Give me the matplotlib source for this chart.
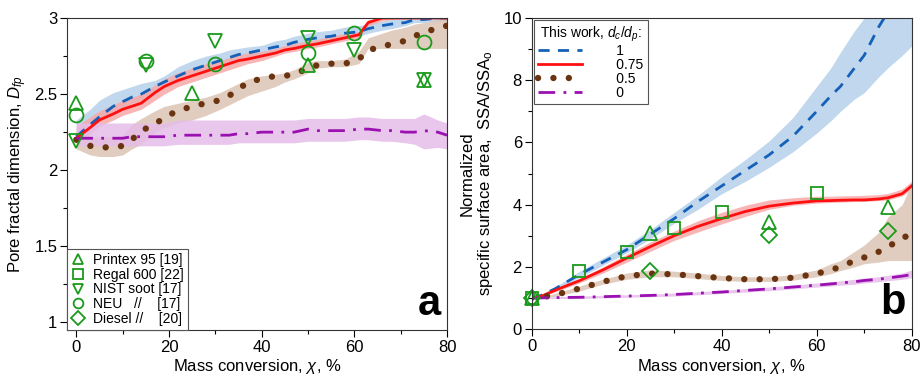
import numpy as np
import matplotlib
matplotlib.use("Agg")
import matplotlib.pyplot as plt
from matplotlib.lines import Line2D
from matplotlib.ticker import MultipleLocator, FormatStrFormatter

plt.rcParams['font.family'] = ['Liberation Sans', 'DejaVu Sans']
plt.rcParams['mathtext.fontset'] = 'custom'
plt.rcParams['mathtext.it'] = 'Liberation Sans:italic'
plt.rcParams['mathtext.rm'] = 'Liberation Sans'

# ---- panel a: pore fractal dimension ----
xa = [0, 3, 5, 8, 10, 12, 14, 17, 19, 22, 25, 28, 31, 33, 35, 37, 40, 43, 45, 47, 50, 52, 55, 58, 61, 63, 66, 68, 71, 73, 75, 78, 80]
a_d1 = [2.22, 2.30, 2.35, 2.42, 2.45, 2.48, 2.50, 2.55, 2.58, 2.62, 2.66, 2.69, 2.72, 2.74, 2.76, 2.77, 2.79, 2.81, 2.82, 2.84, 2.86, 2.87, 2.88, 2.90, 2.91, 2.93, 2.95, 2.96, 2.97, 2.99, 2.99, 3.0, 3.0]
a_d1_lo = [2.22, 2.27, 2.32, 2.38, 2.41, 2.44, 2.46, 2.51, 2.54, 2.58, 2.62, 2.65, 2.68, 2.70, 2.72, 2.73, 2.75, 2.77, 2.78, 2.80, 2.82, 2.83, 2.84, 2.86, 2.88, 2.90, 2.92, 2.93, 2.95, 2.97, 2.97, 2.98, 2.98]
a_d1_hi = [2.33, 2.40, 2.46, 2.51, 2.53, 2.55, 2.57, 2.59, 2.62, 2.68, 2.72, 2.75, 2.77, 2.79, 2.80, 2.81, 2.82, 2.85, 2.86, 2.88, 2.90, 2.91, 2.92, 2.94, 2.95, 2.96, 2.98, 2.99, 3.0, 3.0, 3.0, 3.0, 3.0]
a_d075 = [2.21, 2.28, 2.33, 2.37, 2.40, 2.42, 2.44, 2.51, 2.55, 2.59, 2.62, 2.65, 2.68, 2.70, 2.72, 2.73, 2.75, 2.77, 2.79, 2.80, 2.82, 2.83, 2.85, 2.87, 2.89, 2.97, 3.0, 3.0, 3.0, 3.0, 3.0, 3.0, 3.0]
a_d075_lo = [2.16, 2.24, 2.29, 2.33, 2.36, 2.38, 2.40, 2.46, 2.50, 2.55, 2.58, 2.61, 2.64, 2.66, 2.68, 2.70, 2.72, 2.75, 2.77, 2.78, 2.80, 2.81, 2.83, 2.85, 2.87, 2.95, 2.98, 2.99, 3.0, 3.0, 3.0, 3.0, 3.0]
a_d075_hi = [2.29, 2.35, 2.39, 2.43, 2.46, 2.48, 2.50, 2.56, 2.60, 2.64, 2.67, 2.70, 2.72, 2.74, 2.76, 2.77, 2.78, 2.80, 2.82, 2.83, 2.85, 2.86, 2.88, 2.90, 2.91, 2.99, 3.0, 3.0, 3.0, 3.0, 3.0, 3.0, 3.0]
a_d05 = [2.20, 2.16, 2.15, 2.15, 2.16, 2.20, 2.26, 2.30, 2.35, 2.39, 2.42, 2.44, 2.46, 2.49, 2.53, 2.58, 2.60, 2.62, 2.62, 2.63, 2.67, 2.69, 2.70, 2.70, 2.73, 2.79, 2.81, 2.83, 2.85, 2.88, 2.91, 2.93, 2.95]
a_d05_lo = [2.14, 2.10, 2.09, 2.09, 2.10, 2.14, 2.17, 2.25, 2.28, 2.31, 2.33, 2.36, 2.40, 2.43, 2.46, 2.49, 2.52, 2.55, 2.58, 2.60, 2.64, 2.67, 2.68, 2.68, 2.70, 2.80, 2.80, 2.80, 2.80, 2.80, 2.80, 2.80, 2.80]
a_d05_hi = [2.26, 2.22, 2.22, 2.22, 2.23, 2.30, 2.34, 2.39, 2.42, 2.44, 2.46, 2.48, 2.51, 2.54, 2.57, 2.60, 2.62, 2.63, 2.64, 2.66, 2.71, 2.72, 2.72, 2.73, 2.78, 2.87, 2.90, 2.92, 2.94, 2.96, 2.97, 2.99, 3.0]
a_d0 = [2.21, 2.21, 2.21, 2.21, 2.21, 2.22, 2.22, 2.22, 2.22, 2.23, 2.23, 2.23, 2.23, 2.23, 2.24, 2.24, 2.25, 2.25, 2.25, 2.25, 2.27, 2.26, 2.26, 2.26, 2.27, 2.27, 2.26, 2.26, 2.25, 2.25, 2.26, 2.25, 2.23]
a_d0_lo = [2.16, 2.16, 2.16, 2.16, 2.16, 2.16, 2.16, 2.16, 2.16, 2.17, 2.17, 2.17, 2.17, 2.17, 2.18, 2.18, 2.18, 2.18, 2.18, 2.18, 2.19, 2.19, 2.19, 2.19, 2.20, 2.20, 2.19, 2.19, 2.18, 2.17, 2.14, 2.15, 2.14]
a_d0_hi = [2.31, 2.31, 2.31, 2.31, 2.31, 2.31, 2.31, 2.31, 2.31, 2.33, 2.33, 2.33, 2.33, 2.33, 2.33, 2.33, 2.33, 2.33, 2.33, 2.33, 2.34, 2.34, 2.34, 2.34, 2.35, 2.35, 2.34, 2.34, 2.34, 2.34, 2.37, 2.33, 2.31]

# experimental points, panel a
a_tri_x = [0, 25, 50, 75]
a_tri_y = [2.44, 2.51, 2.69, 2.59]
a_tdn_x = [0, 15, 30, 50, 60, 75]
a_tdn_y = [2.19, 2.69, 2.85, 2.87, 2.79, 2.59]
a_cir_x = [0, 15, 30, 50, 60, 75]
a_cir_y = [2.36, 2.72, 2.70, 2.77, 2.90, 2.84]

# ---- panel b: normalized specific surface area ----
xb = [0, 2, 5, 10, 15, 20, 25, 30, 35, 40, 45, 50, 55, 60, 63, 65, 68, 70, 73, 75, 78, 80]
b_d1 = [1.0, 1.08, 1.3, 1.75, 2.15, 2.55, 3.05, 3.55, 4.1, 4.6, 5.1, 5.6, 6.2, 7.0, 7.5, 7.8, 8.4, 8.8, 9.7, 10.2, 10.9, 11.3]
b_d1_lo = [1.0, 1.06, 1.25, 1.65, 2.05, 2.45, 2.9, 3.4, 3.85, 4.35, 4.75, 5.2, 5.7, 6.3, 6.7, 7.0, 7.4, 7.6, 8.1, 8.4, 8.8, 9.1]
b_d1_hi = [1.0, 1.1, 1.35, 1.85, 2.28, 2.7, 3.2, 3.75, 4.3, 4.9, 5.45, 6.05, 6.8, 7.8, 8.4, 8.9, 9.6, 10.0, 11.0, 11.5, 12.0, 12.5]
b_d075 = [1.0, 1.05, 1.25, 1.55, 1.9, 2.28, 2.65, 3.0, 3.3, 3.55, 3.78, 3.95, 4.05, 4.12, 4.13, 4.14, 4.15, 4.15, 4.18, 4.22, 4.35, 4.6]
b_d075_lo = [1.0, 1.03, 1.2, 1.48, 1.8, 2.15, 2.5, 2.85, 3.12, 3.38, 3.62, 3.85, 3.98, 4.05, 4.07, 4.08, 4.1, 4.1, 4.13, 4.15, 4.28, 4.5]
b_d075_hi = [1.0, 1.07, 1.3, 1.62, 2.0, 2.4, 2.8, 3.15, 3.48, 3.75, 3.98, 4.15, 4.22, 4.27, 4.27, 4.28, 4.29, 4.3, 4.32, 4.36, 4.5, 4.75]
b_d05 = [1.0, 1.02, 1.1, 1.3, 1.52, 1.7, 1.78, 1.76, 1.7, 1.64, 1.6, 1.6, 1.65, 1.78, 1.9, 2.0, 2.2, 2.3, 2.48, 2.65, 2.9, 3.1]
b_d05_lo = [1.0, 1.0, 1.05, 1.22, 1.44, 1.6, 1.68, 1.68, 1.62, 1.56, 1.53, 1.53, 1.57, 1.68, 1.78, 1.88, 2.0, 2.1, 2.15, 2.2, 2.2, 2.2]
b_d05_hi = [1.0, 1.04, 1.15, 1.38, 1.6, 1.8, 1.9, 1.86, 1.8, 1.72, 1.68, 1.68, 1.75, 1.9, 2.1, 2.2, 2.5, 2.7, 3.1, 3.6, 4.0, 4.7]
b_d0 = [1.0, 1.0, 1.01, 1.02, 1.04, 1.06, 1.08, 1.11, 1.15, 1.19, 1.24, 1.29, 1.35, 1.41, 1.45, 1.48, 1.52, 1.56, 1.6, 1.64, 1.7, 1.75]
b_d0_lo = [1.0, 0.98, 0.98, 0.98, 1.0, 1.02, 1.04, 1.06, 1.1, 1.14, 1.19, 1.23, 1.29, 1.35, 1.38, 1.41, 1.44, 1.48, 1.52, 1.55, 1.6, 1.65]
b_d0_hi = [1.0, 1.02, 1.04, 1.06, 1.08, 1.1, 1.12, 1.16, 1.2, 1.24, 1.3, 1.35, 1.41, 1.48, 1.52, 1.55, 1.6, 1.64, 1.68, 1.73, 1.8, 1.9]

# experimental points, panel b
b_tri_x = [0, 25, 50, 75]
b_tri_y = [1.0, 3.09, 3.43, 3.92]
b_sq_x = [0, 10, 20, 30, 40, 60]
b_sq_y = [1.0, 1.85, 2.49, 3.25, 3.76, 4.38]
b_dia_x = [0, 25, 50, 75]
b_dia_y = [1.0, 1.88, 3.03, 3.14]

green = '#1a9a1a'
c_blue, c_red, c_brown, c_purple = '#1560b8', '#ff1010', '#6a3410', '#9a10b0'
f_blue, f_red, f_brown, f_purple = '#b5d1ea', '#f7a8a8', '#dcc5b5', '#e6bde9'

dash = (0, (4, 3))
dashdot = (0, (6, 3, 1, 3))
dots = (0, (0.01, 2.4))


def draw_models(ax, x, series):
    # shaded uncertainty bands first, model curves on top
    for mid, lo, hi, col, fc, ls in series:
        ax.fill_between(x, lo, hi, color=fc, alpha=0.85, lw=0)
    for mid, lo, hi, col, fc, ls in series:
        if ls == 'dot':
            ax.plot(x, mid, color=col, lw=4.6, linestyle=dots, dash_capstyle='round')
        else:
            ax.plot(x, mid, color=col, lw=2, linestyle=ls)


fig = plt.figure(figsize=(9.24, 3.8), dpi=100)
axa = fig.add_axes([0.0725, 0.1316, 0.4113, 0.821])
axb = fig.add_axes([0.5754, 0.1342, 0.4113, 0.8184])

draw_models(axa, xa, [
    (a_d1, a_d1_lo, a_d1_hi, c_blue, f_blue, dash),
    (a_d075, a_d075_lo, a_d075_hi, c_red, f_red, '-'),
    (a_d05, a_d05_lo, a_d05_hi, c_brown, f_brown, 'dot'),
    (a_d0, a_d0_lo, a_d0_hi, c_purple, f_purple, dashdot),
])
mk = dict(linestyle='none', mfc='none', mec=green, mew=1.3, ms=10, clip_on=False)
axa.plot(a_tri_x, a_tri_y, marker='^', **mk)
axa.plot(a_tdn_x, a_tdn_y, marker='v', **mk)
axa.plot(a_cir_x, a_cir_y, marker='o', **mk)

axa.set_xlim(-2, 80)
axa.set_ylim(0.95, 3)
axa.xaxis.set_major_locator(MultipleLocator(20))
axa.xaxis.set_minor_locator(MultipleLocator(10))
axa.yaxis.set_major_locator(MultipleLocator(0.5))
axa.yaxis.set_minor_locator(MultipleLocator(0.25))
axa.yaxis.set_major_formatter(FormatStrFormatter('%g'))
axa.set_xlabel('Mass conversion, $\\chi$, %', fontsize=12, labelpad=2)
axa.set_ylabel('Pore fractal dimension, $D_{fp}$', fontsize=12, labelpad=4)
axa.text(0.985, 0.02, 'a', transform=axa.transAxes, ha='right', va='bottom',
         fontsize=30, fontweight='bold')

leg_handles = [Line2D([], [], marker=m, linestyle='none', mfc='none', mec=green, mew=1.3, ms=7)
               for m in ['^', 's', 'v', 'o', 'D']]
leg_labels = ['Printex 95 [19]', 'Regal 600 [22]', 'NIST soot [17]',
              'NEU   //    [17]', 'Diesel //    [20]']
la = axa.legend(leg_handles, leg_labels, loc='lower left', borderaxespad=0, fontsize=10,
                handlelength=1.0, handletextpad=0.6, labelspacing=0.05, borderpad=0.3,
                fancybox=False, edgecolor='#555555', framealpha=1)
la.get_frame().set_linewidth(0.8)

draw_models(axb, xb, [
    (b_d1, b_d1_lo, b_d1_hi, c_blue, f_blue, dash),
    (b_d075, b_d075_lo, b_d075_hi, c_red, f_red, '-'),
    (b_d05, b_d05_lo, b_d05_hi, c_brown, f_brown, 'dot'),
    (b_d0, b_d0_lo, b_d0_hi, c_purple, f_purple, dashdot),
])
axb.plot(b_tri_x, b_tri_y, marker='^', **mk)
axb.plot(b_sq_x, b_sq_y, marker='s', **dict(mk, ms=9))
axb.plot(b_dia_x, b_dia_y, marker='D', **dict(mk, ms=8))

axb.set_xlim(0, 80)
axb.set_ylim(0, 10)
axb.xaxis.set_major_locator(MultipleLocator(20))
axb.xaxis.set_minor_locator(MultipleLocator(10))
axb.yaxis.set_major_locator(MultipleLocator(2))
axb.yaxis.set_minor_locator(MultipleLocator(1))
axb.set_xlabel('Mass conversion, $\\chi$, %', fontsize=12, labelpad=2)
axb.set_ylabel('Normalized\nspecific surface area,  SSA/SSA$_\\mathregular{o}$', fontsize=12,
               linespacing=1.1, labelpad=6)
axb.text(0.985, 0.02, 'b', transform=axb.transAxes, ha='right', va='bottom',
         fontsize=30, fontweight='bold')

lh = [Line2D([], [], color=c_blue, lw=2, linestyle=dash),
      Line2D([], [], color=c_red, lw=2),
      Line2D([], [], color=c_brown, lw=4.6, linestyle=dots, dash_capstyle='round'),
      Line2D([], [], color=c_purple, lw=2, linestyle=dashdot)]
lb = axb.legend(lh, ['      1', '      0.75', '      0.5', '      0'], loc='upper left',
                title='This work, $d_c/d_p$:', title_fontsize=10, fontsize=10,
                handlelength=3.2, labelspacing=0.0, borderpad=0.3, borderaxespad=0.15,
                fancybox=False, edgecolor='#555555', framealpha=1)
lb.get_frame().set_linewidth(0.8)

for ax in (axa, axb):
    ax.tick_params(which='major', direction='out', length=5, width=0.8, labelsize=12,
                   top=False, right=False, pad=2)
    ax.tick_params(which='minor', direction='out', length=3, width=0.8, top=False, right=False)
    for s in ax.spines.values():
        s.set_linewidth(0.8)
        s.set_color('#333333')

fig.savefig('out.png', dpi=100)
